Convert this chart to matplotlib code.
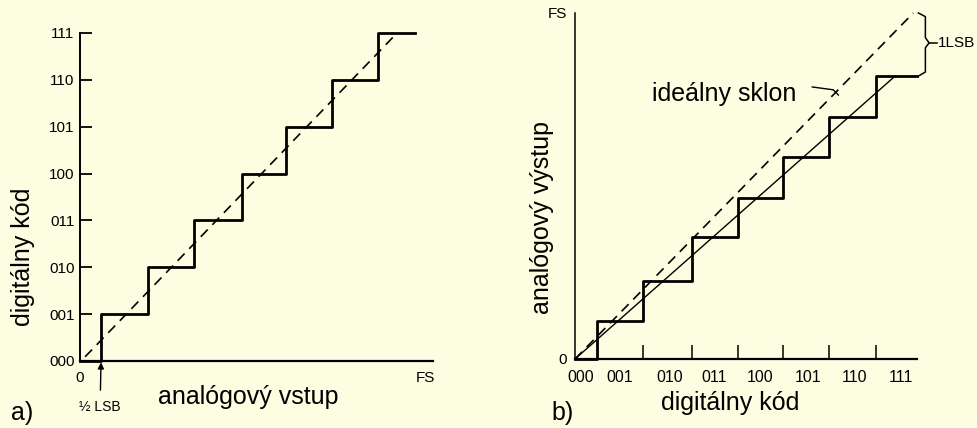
import matplotlib
matplotlib.use("Agg")
import matplotlib.pyplot as plt

plt.rcParams['font.family'] = ['Liberation Sans', 'DejaVu Sans']

BG = '#fdfde2'

# --- panel a) : A/D prevodnik ---
a_codes = ['000', '001', '010', '011', '100', '101', '110', '111']
a_edges = [0, 0.45, 1.46, 2.44, 3.47, 4.41, 5.40, 6.38, 7.17]
a_levels = [0, 1, 2, 3, 4, 5, 6, 7]
a_ideal_x = [0.11, 6.79]
a_ideal_y = [0.09, 7.0]
a_fs = 7.39

# --- panel b) : D/A prevodnik ---
b_codes = ['000', '001', '010', '011', '100', '101', '110', '111']
b_code_pos = [0.12, 0.97, 2.04, 3.0, 3.98, 5.0, 6.0, 7.0]
b_marks = [1.46, 2.51, 3.50, 4.47, 5.46, 6.47]
b_edges = [0, 0.47, 1.46, 2.51, 3.50, 4.47, 5.46, 6.47, 7.35]
b_levels = [0, 0.94, 1.93, 3.02, 3.98, 4.99, 5.99, 7.0]
b_real_x = [0, 6.88]
b_real_y = [0, 7.0]
b_ideal_x = [0, 7.27]
b_ideal_y = [0, 8.56]
b_fs = 8.56

W, H = 978, 428
fig = plt.figure(figsize=(W / 100, H / 100), dpi=100)
fig.patch.set_facecolor(BG)


def px_box(x0, y0, x1, y1):
    # pixel rectangle -> figure fraction
    return [x0 / W, 1 - y1 / H, (x1 - x0) / W, (y1 - y0) / H]


def style(ax):
    ax.set_facecolor('none')
    for s in ['top', 'right']:
        ax.spines[s].set_visible(False)
    for s in ['left', 'bottom']:
        ax.spines[s].set_color('black')


# ---------- a) ----------
ax = fig.add_axes(px_box(80, 33, 433, 361))
style(ax)
ax.spines['left'].set_linewidth(1.4)
ax.spines['bottom'].set_linewidth(1.6)
ax.set_xlim(0, 7.56)
ax.set_ylim(0, 7)

ax.step(a_edges, a_levels + [a_levels[-1]], where='post', color='black', lw=2.0, clip_on=False)
ax.plot(a_ideal_x, a_ideal_y, color='black', lw=1.2, dashes=(6, 4))

ax.set_yticks(range(len(a_codes)))
ax.set_yticklabels(a_codes, fontsize=11)
ax.tick_params(axis='y', direction='in', length=8.5, width=1.3, pad=4)
ax.set_xticks([0, a_fs])
ax.set_xticklabels(['0', 'FS'], fontsize=11)
ax.tick_params(axis='x', length=0, pad=7)

ax.annotate('½ LSB', xy=(a_edges[1], -0.03), xytext=(a_edges[1] - 0.02, -0.98),
            ha='center', va='center', fontsize=10, annotation_clip=False,
            arrowprops=dict(arrowstyle='-|>', color='black', lw=1.0,
                            mutation_scale=9, shrinkA=5, shrinkB=0))

fig.text(23 / W, 1 - 257 / H, 'digitálny kód', rotation=90, fontsize=18,
         ha='center', va='center')
fig.text(248 / W, 1 - 397 / H, 'analógový vstup', fontsize=18, ha='center', va='center')
fig.text(22 / W, 1 - 413 / H, 'a)', fontsize=18, ha='center', va='center')

# ---------- b) ----------
bx = fig.add_axes(px_box(575, 13, 917, 359))
style(bx)
bx.spines['left'].set_linewidth(1.1)
bx.spines['bottom'].set_linewidth(1.6)
bx.set_xlim(0, 7.35)
bx.set_ylim(0, 8.56)

bx.step(b_edges, b_levels + [b_levels[-1]], where='post', color='black', lw=2.0, clip_on=False)
bx.plot(b_real_x, b_real_y, color='black', lw=1.0)
bx.plot(b_ideal_x, b_ideal_y, color='black', lw=1.2, dashes=(6, 4), clip_on=False)

bx.set_xticks(b_code_pos)
bx.set_xticklabels(b_codes, fontsize=11.5)
bx.set_xticks(b_marks, minor=True)
bx.tick_params(axis='x', which='major', length=0, pad=8)
bx.tick_params(axis='x', which='minor', direction='in', length=10, width=1.1)
bx.set_yticks([0, b_fs])
bx.set_yticklabels(['0', 'FS'], fontsize=11)
bx.tick_params(axis='y', length=0, pad=6)

# slozena zatvorka 1 LSB
brace_x = [7.38, 7.53, 7.53, 7.61, 7.53, 7.53, 7.38]
brace_y = [8.56, 8.47, 7.95, 7.82, 7.70, 7.10, 7.0]
bx.plot(brace_x, brace_y, color='black', lw=1.1, clip_on=False)
bx.plot([7.61, 7.78], [7.82, 7.82], color='black', lw=1.1, clip_on=False)
bx.text(7.80, 7.82, '1LSB', fontsize=11, ha='left', va='center')

bx.text(3.2, 6.56, 'ideálny sklon', fontsize=18, ha='center', va='center')
bx.plot([5.10, 5.55, 5.66], [6.73, 6.66, 6.53], color='black', lw=1.0)

fig.text(542 / W, 1 - 217 / H, 'analógový výstup', rotation=90, fontsize=18,
         ha='center', va='center')
fig.text(730 / W, 1 - 403 / H, 'digitálny kód', fontsize=18, ha='center', va='center')
fig.text(563 / W, 1 - 413 / H, 'b)', fontsize=18, ha='center', va='center')

fig.savefig('out.png', dpi=100, facecolor=BG)
